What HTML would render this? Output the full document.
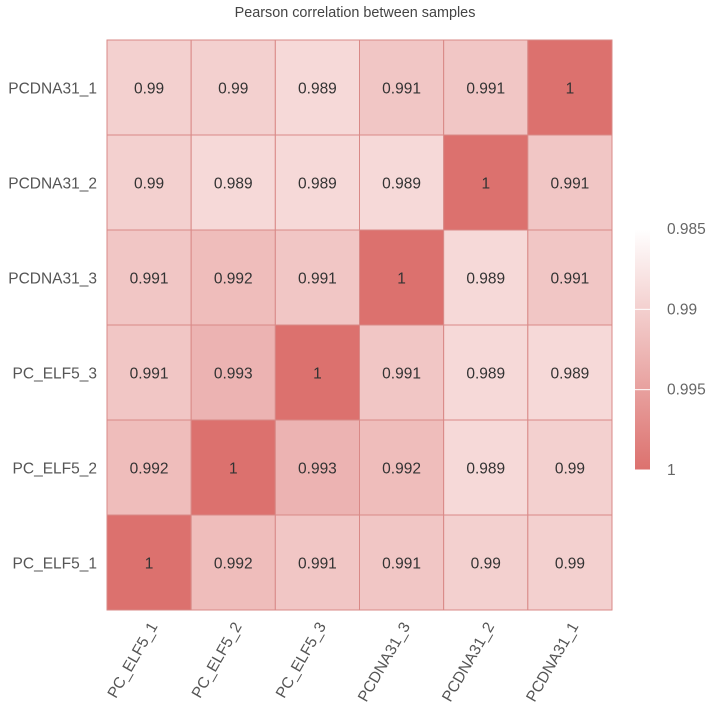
<!DOCTYPE html>
<html><head><meta charset="utf-8"><style>
body{margin:0;background:#fff;}
svg text{font-family:"Liberation Sans",sans-serif;}
</style></head><body>
<svg id="chart" width="709" height="709">
<defs><linearGradient id="lg" x1="0" y1="0" x2="0" y2="1">
<stop offset="0" stop-color="#ffffff"/><stop offset="1" stop-color="#dc716e"/></linearGradient></defs>
<text x="355" y="17" text-anchor="middle" font-size="14.4" fill="#444">Pearson correlation between samples</text>
<g id="cells"></g>
<g id="labels"></g>
<rect x="635" y="229" width="15" height="241" fill="url(#lg)"/>
<g id="legend"></g>
</svg>
<script>
const rowLabels=["PCDNA31_1","PCDNA31_2","PCDNA31_3","PC_ELF5_3","PC_ELF5_2","PC_ELF5_1"];
const colLabels=["PC_ELF5_1","PC_ELF5_2","PC_ELF5_3","PCDNA31_3","PCDNA31_2","PCDNA31_1"];
const values=[
[0.99,0.99,0.989,0.991,0.991,1],
[0.99,0.989,0.989,0.989,1,0.991],
[0.991,0.992,0.991,1,0.989,0.991],
[0.991,0.993,1,0.991,0.989,0.989],
[0.992,1,0.993,0.992,0.989,0.99],
[1,0.992,0.991,0.991,0.99,0.99]];
const legendTicks=[0.985,0.99,0.995,1];
const NS="http://www.w3.org/2000/svg";
const X0=107,X1=612,Y0=40,Y1=610,VMIN=0.985,VMAX=1;
const cw=(X1-X0)/colLabels.length, rh=(Y1-Y0)/rowLabels.length;
function xs(i){return X0+i*cw;}
function ys(j){return Y0+j*rh;}
function col(v){const t=Math.max(0,Math.min(1,(v-VMIN)/(VMAX-VMIN)));
 const r=Math.round(255+(220-255)*t),g=Math.round(255+(113-255)*t),b=Math.round(255+(110-255)*t);
 return `rgb(${r},${g},${b})`;}
function mk(tag,attrs,parent){const e=document.createElementNS(NS,tag);for(const k in attrs)e.setAttribute(k,attrs[k]);parent.appendChild(e);return e;}
const cells=document.getElementById('cells'),labels=document.getElementById('labels'),legend=document.getElementById('legend');
values.forEach((row,j)=>row.forEach((v,i)=>{
 const r=mk('rect',{x:xs(i),y:ys(j),width:cw,height:rh,fill:col(v),stroke:'#d98987','stroke-width':1},cells);
 
 
 const t=mk('text',{x:xs(i)+cw/2,y:ys(j)+rh/2+6,'text-anchor':'middle','font-size':15.5,fill:'#333'},cells);
 t.textContent=String(v);
 
 
}));
rowLabels.forEach((l,j)=>{
 const t=mk('text',{x:X0-10,y:ys(j)+rh/2+6,'text-anchor':'end','font-size':15.5,fill:'#555'},labels);
 t.textContent=l;
 
 
});
colLabels.forEach((l,i)=>{
 const cx=xs(i)+cw/2+9, cy=Y1+16;
 const t=mk('text',{x:cx,y:cy,'text-anchor':'end','font-size':15.5,fill:'#555',transform:`rotate(-60 ${cx} ${cy})`},labels);
 t.textContent=l;
 
 
});
legendTicks.forEach(v=>{
 const y=229+(v-VMIN)/(VMAX-VMIN)*241;
 const ln=mk('line',{x1:635,x2:650,y1:y,y2:y,stroke:'#fff','stroke-width':1},legend);
 
 
 const t=mk('text',{x:667,y:y+5,'font-size':15.5,fill:'#666'},legend);
 t.textContent=String(v);
 
 
});
</script>
</body></html>
